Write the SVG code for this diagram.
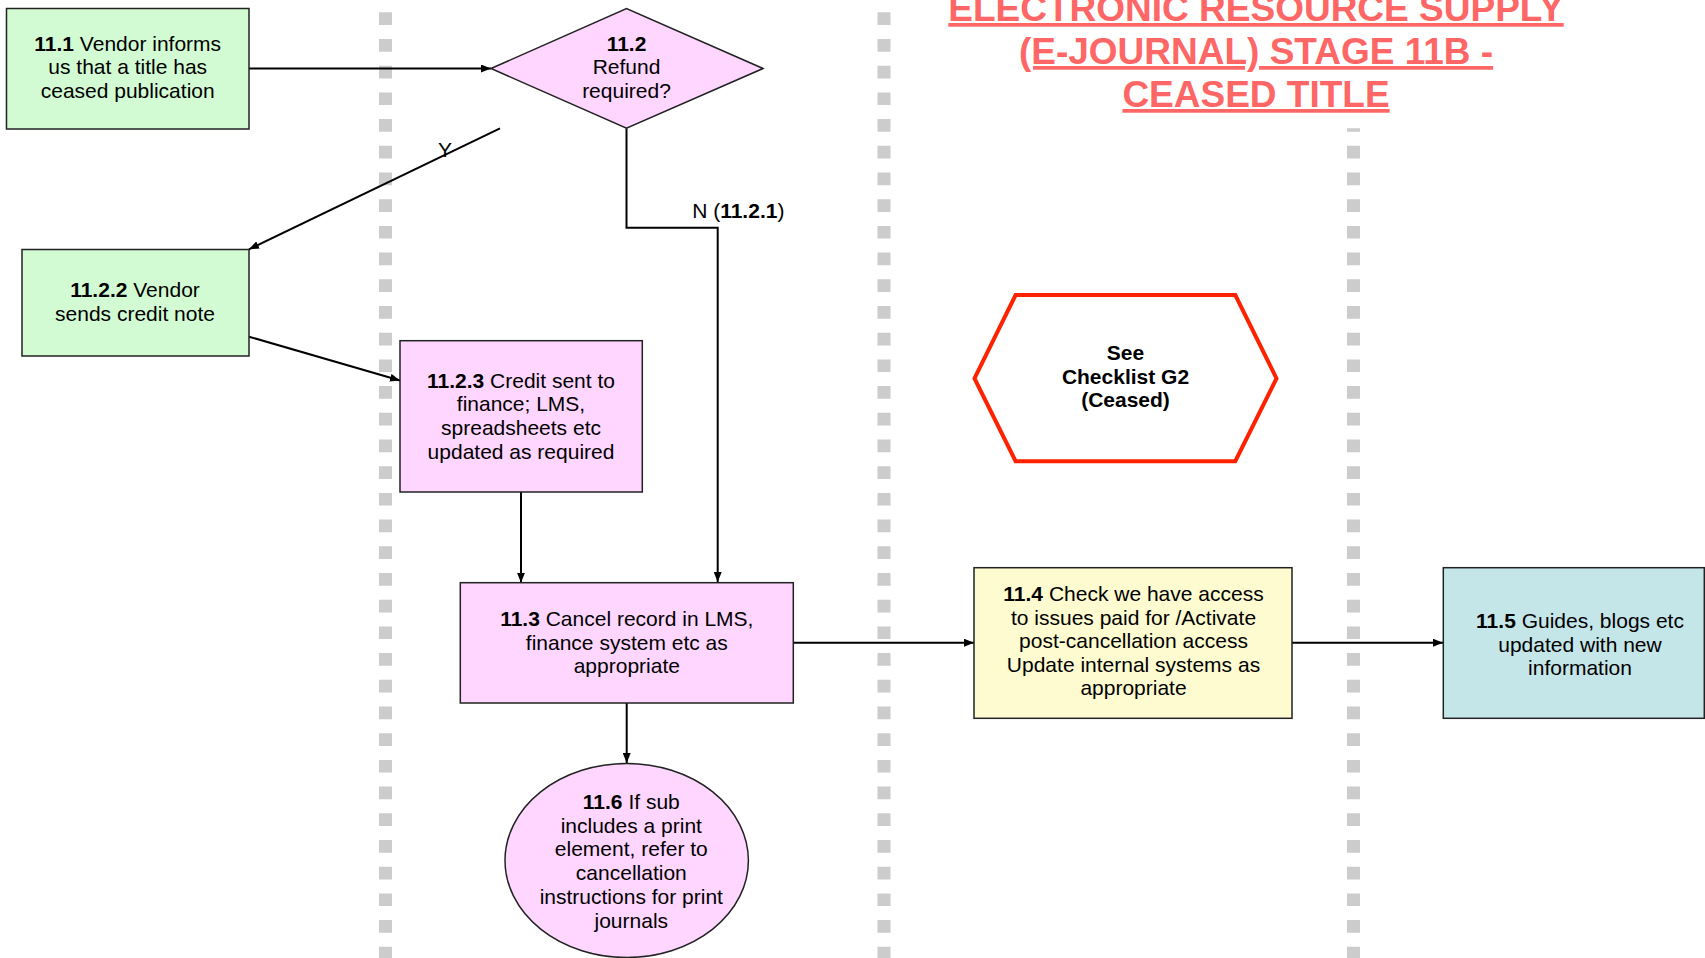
<svg xmlns="http://www.w3.org/2000/svg" width="1705" height="958" viewBox="0 0 1705 958">
<style>
text{font-family:"Liberation Sans",Arial,sans-serif;font-size:21px;fill:#000;text-anchor:middle}
.b{font-weight:bold}
.box{stroke:#222;stroke-width:1.5}
.green{fill:#D3FBD3}
.pink{fill:#FFD6FF}
.yellow{fill:#FDFBCF}
.teal{fill:#C5E6E8}
.lane{stroke:#CCCCCC;stroke-width:13;stroke-dasharray:12.7 14;fill:none}
.conn{stroke:#000;stroke-width:2;fill:none;marker-end:url(#ah)}
.title{font-size:37px;font-weight:bold;fill:#FF6666;text-decoration:underline}
</style>
<defs>
<marker id="ah" markerUnits="userSpaceOnUse" markerWidth="10" markerHeight="8" refX="10" refY="4" orient="auto">
<path d="M0,0 L10,4 L0,8 z" fill="#000"/>
</marker>
</defs>
<rect width="1705" height="958" fill="#fff"/>
<g id="lanes">
<line class="lane" x1="385.5" y1="12.3" x2="385.5" y2="958"/>
<line class="lane" x1="884" y1="12.3" x2="884" y2="958"/>
<line class="lane" x1="1353.5" y1="128.3" x2="1353.5" y2="958" stroke-dashoffset="9.2"/>
</g>
<g id="title">
<text class="title" x="1256" y="21">ELECTRONIC RESOURCE SUPPLY</text>
<text class="title" x="1256" y="64">(E-JOURNAL) STAGE 11B -</text>
<text class="title" x="1256" y="107">CEASED TITLE</text>
</g>
<g id="connectors">
<path class="conn" d="M249,68.5 H491"/>
<path class="conn" d="M500,128.3 L249,249.3"/>
<path class="conn" d="M626.5,128.3 V227.7 H717.7 V582"/>
<path class="conn" d="M249,336.7 L400,380.5"/>
<path class="conn" d="M521,492 V582.7"/>
<path class="conn" d="M626.7,703 V763"/>
<path class="conn" d="M793.3,642.7 H974"/>
<path class="conn" d="M1292,642.7 H1443"/>
<text x="445" y="157" style="font-size:21px">Y</text>
<text x="738.3" y="218.3">N (<tspan class="b">11.2.1</tspan>)</text>
</g>
<g id="n11_1">
<rect class="box green" x="6.5" y="8.5" width="242.5" height="120.5"/>
<text x="127.7" y="50.7"><tspan class="b">11.1</tspan> Vendor informs</text>
<text x="127.7" y="74.4">us that a title has</text>
<text x="127.7" y="98.1">ceased publication</text>
</g>
<g id="n11_2">
<polygon class="box pink" points="491,68.5 626.5,8.5 763,68.5 626.5,128.3"/>
<text x="626.5" y="50.7" class="b">11.2</text>
<text x="626.5" y="74.4">Refund</text>
<text x="626.5" y="98.1">required?</text>
</g>
<g id="n11_2_2">
<rect class="box green" x="22" y="249.5" width="227" height="106.5"/>
<text x="135" y="297"><tspan class="b">11.2.2</tspan> Vendor</text>
<text x="135" y="320.7">sends credit note</text>
</g>
<g id="n11_2_3">
<rect class="box pink" x="400" y="340.7" width="242.3" height="151.3"/>
<text x="521" y="387.5"><tspan class="b">11.2.3</tspan> Credit sent to</text>
<text x="521" y="411.2">finance; LMS,</text>
<text x="521" y="434.9">spreadsheets etc</text>
<text x="521" y="458.6">updated as required</text>
</g>
<g id="n11_3">
<rect class="box pink" x="460.3" y="582.7" width="333" height="120.3"/>
<text x="626.8" y="626"><tspan class="b">11.3</tspan> Cancel record in LMS,</text>
<text x="626.8" y="649.7">finance system etc as</text>
<text x="626.8" y="673.4">appropriate</text>
</g>
<g id="n11_6">
<ellipse class="box pink" cx="626.7" cy="860.5" rx="121.7" ry="97"/>
<text x="631.3" y="809"><tspan class="b">11.6</tspan> If sub</text>
<text x="631.3" y="832.7">includes a print</text>
<text x="631.3" y="856.4">element, refer to</text>
<text x="631.3" y="880.1">cancellation</text>
<text x="631.3" y="903.8">instructions for print</text>
<text x="631.3" y="927.5">journals</text>
</g>
<g id="checklist">
<polygon points="974.5,378.4 1015.6,295 1235.3,295 1276.5,378.4 1235.3,461.2 1015.6,461.2" fill="#fff" stroke="#FF2200" stroke-width="4"/>
<text x="1125.5" y="360" class="b">See</text>
<text x="1125.5" y="383.7" class="b">Checklist G2</text>
<text x="1125.5" y="407.4" class="b">(Ceased)</text>
</g>
<g id="n11_4">
<rect class="box yellow" x="974" y="567.7" width="318" height="150.6"/>
<text x="1133.5" y="601.3"><tspan class="b">11.4</tspan> Check we have access</text>
<text x="1133.5" y="624.8">to issues paid for /Activate</text>
<text x="1133.5" y="648.3">post-cancellation access</text>
<text x="1133.5" y="671.8">Update internal systems as</text>
<text x="1133.5" y="695.3">appropriate</text>
</g>
<g id="n11_5">
<rect class="box teal" x="1443.3" y="567.7" width="261" height="150.6"/>
<text x="1580" y="628"><tspan class="b">11.5</tspan> Guides, blogs etc</text>
<text x="1580" y="651.5">updated with new</text>
<text x="1580" y="675">information</text>
</g>
</svg>
